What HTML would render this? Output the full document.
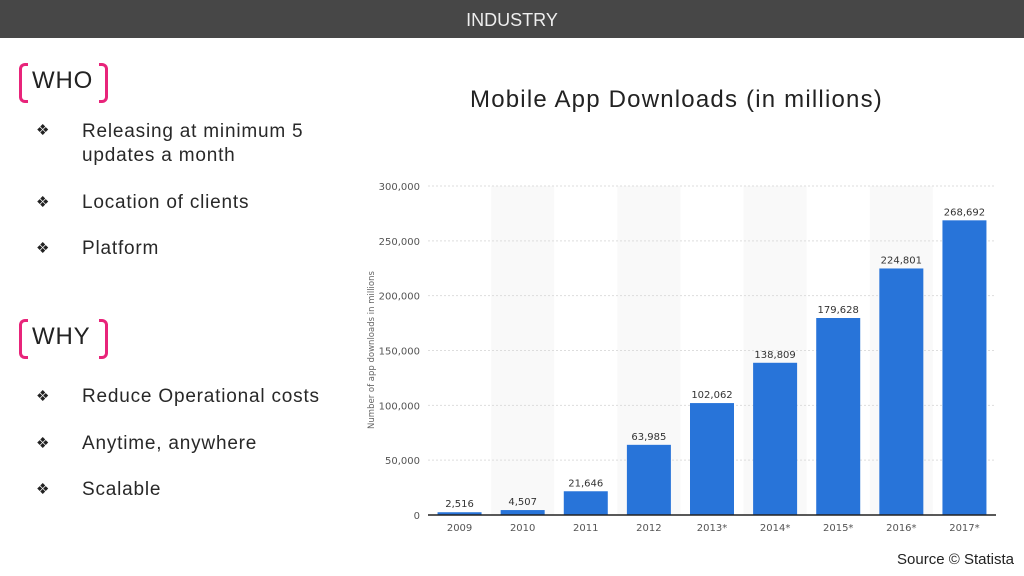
<!DOCTYPE html>
<html><head><meta charset="utf-8"><style>
body{margin:0;width:1024px;height:576px;background:#fff;font-family:"Liberation Sans",sans-serif;position:relative;overflow:hidden}
.hdr{position:absolute;left:0;top:0;width:1024px;height:38px;background:#474747;color:#eee;text-align:center;line-height:40px;font-size:18px}
.sec{position:absolute;font-size:24px;color:#222;letter-spacing:0.8px}
.br{position:absolute;width:6px;height:34px;border:3px solid #e8247a}
.bl{border-right:none;border-radius:6px 0 0 6px}
.brr{border-left:none;border-radius:0 6px 6px 0}
.item{position:absolute;left:82px;font-size:19px;color:#282828;line-height:24px;letter-spacing:0.8px}
.dia{position:absolute;left:36px;font-size:15px;color:#222}
.title{position:absolute;left:470px;top:86px;font-size:24px;color:#222;letter-spacing:1.2px}
.src{position:absolute;right:10px;top:551px;font-size:15px;color:#222}
</style></head><body>
<div class="hdr">INDUSTRY</div>
<div class="br bl" style="left:19px;top:63px"></div>
<div class="sec" style="left:32px;top:67px">WHO</div>
<div class="br brr" style="left:99px;top:63px"></div>
<div class="dia" style="top:121px">❖</div><div class="item" style="top:120px">Releasing at minimum 5<br>updates a month</div>
<div class="dia" style="top:193px">❖</div><div class="item" style="top:191px">Location of clients</div>
<div class="dia" style="top:239px">❖</div><div class="item" style="top:237px">Platform</div>
<div class="br bl" style="left:19px;top:319px"></div>
<div class="sec" style="left:32px;top:323px">WHY</div>
<div class="br brr" style="left:99px;top:319px"></div>
<div class="dia" style="top:387px">❖</div><div class="item" style="top:385px">Reduce Operational costs</div>
<div class="dia" style="top:434px">❖</div><div class="item" style="top:432px">Anytime, anywhere</div>
<div class="dia" style="top:480px">❖</div><div class="item" style="top:478px">Scalable</div>
<div class="title">Mobile App Downloads (in millions)</div>
<svg id="c" width="1024" height="576" style="position:absolute;left:0;top:0"></svg>
<div class="src">Source © Statista</div>
<script>
const categories=["2009","2010","2011","2012","2013*","2014*","2015*","2016*","2017*"];
const values=[2516,4507,21646,63985,102062,138809,179628,224801,268692];
const yTicks=[0,50000,100000,150000,200000,250000,300000];
const svg=document.getElementById('c');const NS='http://www.w3.org/2000/svg';
const x0=428,x1=996,yb=515,yt=186,ymax=300000;
const bw=(x1-x0)/categories.length;
const y=v=>yb-(v/ymax)*(yb-yt);
const fmt=v=>v.toLocaleString('en-US');
function mk(t,a,txt){const e=document.createElementNS(NS,t);for(const k in a)e.setAttribute(k,a[k]);if(txt!=null)e.textContent=txt;svg.appendChild(e);return e;}
categories.forEach((c,i)=>{if(i%2===1){const r=mk('rect',{x:x0+i*bw,y:yt,width:bw,height:yb-yt,fill:'#f9f9f9'});

}});
yTicks.forEach(t=>{if(t>0){const l=mk('line',{x1:x0,x2:x1,y1:y(t),y2:y(t),stroke:'#ddd','stroke-dasharray':'2,2'});

}
const tx=mk('text',{x:420,y:y(t)+4,'text-anchor':'end','font-size':10,fill:'#555','font-family':'DejaVu Sans, sans-serif'},fmt(t));

});
categories.forEach((c,i)=>{const cx=x0+(i+0.5)*bw,v=values[i];
const r=mk('rect',{x:cx-22,y:y(v),width:44,height:yb-y(v),fill:'#2874d9'});


const l=mk('text',{x:cx,y:y(v)-5,'text-anchor':'middle','font-size':10,fill:'#333','font-family':'DejaVu Sans, sans-serif'},fmt(v));


const xl=mk('text',{x:cx,y:531,'text-anchor':'middle','font-size':10,fill:'#555','font-family':'DejaVu Sans, sans-serif'},c);

});
const ax=mk('line',{x1:x0,x2:x1,y1:yb,y2:yb,stroke:'#222','stroke-width':1.5});


const yl=mk('text',{x:0,y:0,transform:'translate(374,350) rotate(-90)','text-anchor':'middle','font-size':8.5,fill:'#666','font-family':'DejaVu Sans, sans-serif'},'Number of app downloads in millions');


</script>
</body></html>
